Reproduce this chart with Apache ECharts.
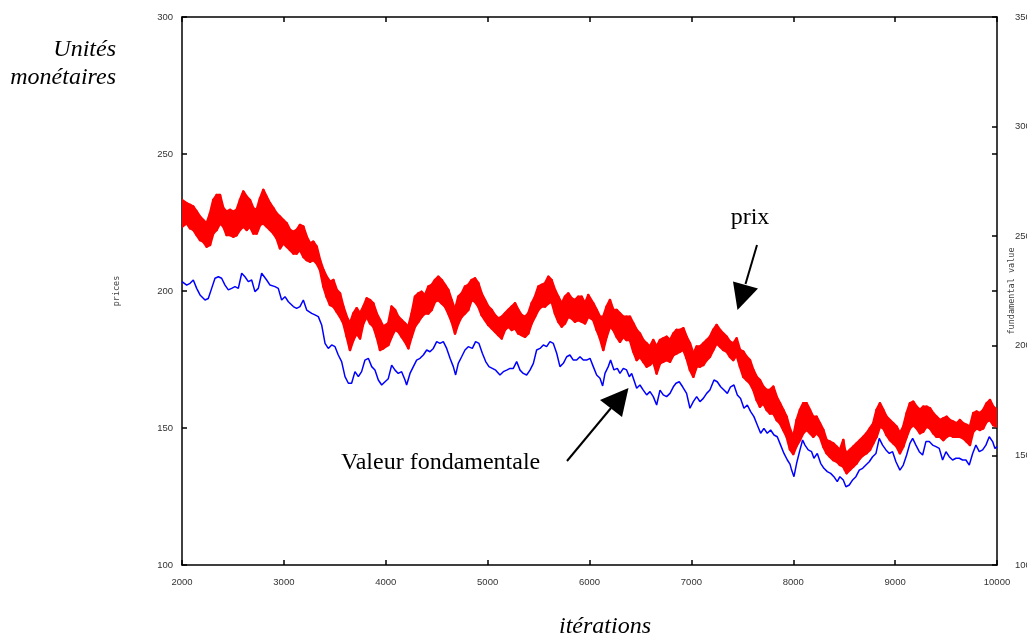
<!DOCTYPE html>
<html><head><meta charset="utf-8">
<script src="https://cdn.jsdelivr.net/npm/echarts@6/dist/echarts.min.js"></script>
<style>html,body{margin:0;padding:0;background:#fff}#c{width:1027px;height:637px}</style>
</head><body><div id="c"></div>
<script>
const xTicks = [2000,3000,4000,5000,6000,7000,8000,9000,10000];
const priceTicks = [100,150,200,250,300];
const fundTicks = [100,150,200,250,300,350];

const priceIter = [2000,2046,2079,2111,2144,2177,2209,2242,2275,2307,2340,2373,2406,2438,2471,2504,2536,2569,2602,2635,2667,2700,2733,2766,2798,2831,2864,2897,2929,2962,2995,3028,3060,3093,3126,3158,3191,3224,3257,3289,3322,3355,3388,3420,3453,3486,3519,3551,3584,3617,3649,3682,3715,3747,3780,3813,3846,3878,3911,3944,3976,
4025,4058,4091,4123,4156,4189,4222,4254,4287,4320,4352,4385,4418,4451,4483,4516,4549,4582,4614,4647,4680,4712,4745,4778,4810,4843,4876,4909,4941,4974,5007,5040,5072,5105,5138,5170,5203,5236,5269,5301,5334,5367,5399,5432,5465,5498,5530,5563,5596,5628,5661,5694,5727,5759,5792,5825,5857,5890,5923,5956,5988,
6037,6070,6103,6135,6168,6201,6234,6266,6299,6332,6364,6397,6430,6463,6495,6528,6561,6593,6626,6659,6692,6724,6757,6790,6823,6855,6888,6921,6953,6986,7019,7052,7084,7117,7150,7182,7215,7248,7281,7313,7346,7379,7411,7444,7477,7510,7542,7575,7608,7641,7673,7706,7739,7771,7804,7837,7870,7902,7935,
7968,8000,8033,8066,8098,8131,8164,8196,8229,8262,8295,8327,8360,8393,8426,8458,8491,8507,8524,8556,8589,8622,8655,8687,8720,8753,8785,8818,8851,8884,8916,8949,8982,9015,9047,9080,9113,9145,9178,9211,9244,9276,9309,9342,9374,9407,9440,9473,9505,9538,9571,9603,9636,9669,9702,9734,9767,9800,9832,9865,9898,9931,9963,10000];

const priceHigh = [233.2,232.0,231.4,230.8,229.0,227.1,225.9,224.7,228.3,233.2,235.0,235.0,230.2,229.0,229.6,229.0,229.6,233.2,236.3,234.4,233.2,230.2,229.6,233.8,236.9,234.4,232.0,230.2,228.3,227.1,225.9,224.7,222.3,221.6,222.3,224.1,223.5,219.8,217.4,218.0,216.2,211.3,207.7,205.2,203.4,204.0,200.4,199.1,194.3,190.6,188.2,191.8,193.7,191.8,194.3,197.3,196.7,195.5,191.8,189.4,187.0,
188.2,194.3,193.1,190.6,189.4,188.2,187.0,191.8,197.9,199.1,199.7,198.5,201.6,202.2,204.0,205.2,204.0,202.2,200.4,196.7,193.1,197.9,199.1,201.6,202.2,204.0,204.6,202.8,199.1,196.7,194.3,193.1,191.2,190.0,190.6,191.8,193.1,194.3,195.5,193.1,191.2,190.6,191.8,195.5,197.9,201.6,202.2,202.8,205.2,204.0,200.4,197.9,195.5,197.9,199.1,197.3,196.7,197.9,197.9,195.5,198.5,
195.5,193.1,190.6,190.6,194.3,196.7,193.1,193.1,191.8,190.6,190.6,190.6,188.2,185.8,184.5,182.1,180.9,179.7,182.1,179.7,182.1,182.7,183.3,182.1,184.5,185.8,185.8,186.4,183.3,180.9,177.2,179.7,179.7,180.9,182.1,183.3,185.8,187.6,185.8,184.5,183.3,181.5,180.9,182.7,178.5,177.9,176.0,174.8,171.2,168.7,167.5,165.1,163.9,163.9,165.1,161.4,159.0,156.6,154.1,
149.6,146.8,152.9,156.6,159.0,159.0,156.6,154.1,154.1,151.7,149.3,145.6,145.0,144.4,143.2,142.0,145.6,142.0,140.8,142.0,143.2,144.4,145.6,146.8,148.1,149.9,151.7,156.6,159.0,156.6,154.1,152.9,151.7,150.5,148.1,150.5,155.4,159.0,159.6,157.8,156.6,157.8,157.8,157.2,155.4,154.1,152.9,153.5,154.1,152.9,152.3,151.7,152.9,151.7,151.1,150.5,155.4,156.0,155.4,156.6,159.0,160.2,157.8,156.6];

const priceLow = [223.5,224.7,222.9,222.3,220.4,218.6,218.0,216.2,216.8,221.0,222.3,224.7,223.5,220.4,220.4,219.8,220.4,222.3,223.5,222.3,223.5,221.0,221.0,224.1,224.7,223.5,222.3,221.0,219.2,215.6,217.4,216.2,215.0,213.7,213.7,215.0,212.5,211.3,210.7,211.3,210.1,207.7,201.6,197.9,194.9,194.3,192.4,190.6,188.2,183.3,178.5,182.1,184.5,182.7,188.2,190.6,188.2,187.0,183.3,178.5,179.1,
180.3,183.3,185.8,185.2,183.3,181.5,179.1,183.3,187.0,188.8,190.6,191.8,191.8,193.1,196.1,196.7,195.5,194.3,191.8,188.8,184.5,188.2,190.6,191.8,193.1,196.7,196.1,194.3,191.2,189.4,187.6,186.4,185.2,183.9,182.7,185.8,187.0,185.8,186.4,184.5,183.9,183.3,184.5,188.2,190.6,193.1,194.3,194.3,195.5,196.1,191.8,188.8,187.0,188.2,190.6,190.0,188.8,189.4,188.8,188.2,190.6,
189.4,185.8,182.7,178.5,183.3,187.0,185.8,183.3,181.5,183.3,182.1,182.1,177.9,174.8,176.0,174.2,172.4,173.0,174.2,169.9,173.6,174.2,174.8,174.2,176.6,177.2,177.9,178.5,175.4,171.2,168.7,172.4,172.4,173.0,174.8,176.0,178.5,180.9,179.7,178.5,177.9,176.0,174.8,176.6,172.4,168.7,167.5,166.3,163.9,160.2,157.8,159.0,156.6,155.3,155.3,152.9,151.7,149.3,146.8,
142.2,140.5,143.5,145.6,148.1,149.3,148.1,146.8,148.1,146.8,143.2,140.8,139.5,138.3,137.7,136.5,135.9,134.7,133.5,134.7,135.9,137.1,138.9,140.1,140.8,142.0,144.4,146.8,150.5,149.9,147.4,145.6,144.4,143.2,140.8,143.2,146.8,149.9,151.1,149.9,148.1,148.7,150.5,149.9,148.1,146.8,146.8,145.6,146.8,147.4,146.8,146.8,146.8,146.2,145.0,143.8,148.7,149.9,149.3,149.9,152.3,152.9,151.1,150.5];

const fundIter = [2000,2046,2079,2111,2144,2177,2226,2258,2291,2324,2357,2389,2422,2455,2487,2520,2553,2586,2618,2651,2684,2716,2749,2782,2798,2831,2864,2913,2945,2978,3011,3044,3093,3125,3158,3191,3224,3273,3305,3338,3371,3404,3436,3469,3502,3534,3567,3600,3633,3665,3698,3731,3763,3796,3829,3862,3894,3927,3960,3993,
4025,4058,4091,4123,4156,4189,4205,4238,4271,4303,4336,4369,4402,4434,4467,4500,4532,4565,4598,4631,4663,4686,4712,4745,4778,4810,4850,4882,4915,4948,4981,5013,5046,5079,5121,5154,5187,5220,5252,5285,5318,5350,5383,5416,5449,5481,5514,5547,5579,5612,5645,5678,5710,5743,5776,5808,5841,5874,5907,5939,5972,6005,6037,
6070,6103,6129,6152,6184,6207,6240,6273,6299,6332,6364,6391,6414,6436,6463,6495,6528,6561,6594,6626,6659,6692,6724,6757,6790,6823,6849,6881,6914,6953,6986,7019,7052,7084,7117,7150,7182,7222,7254,7287,7320,7353,7385,7418,7451,7483,7516,7549,7582,7614,7647,7680,7712,7745,7778,7811,7843,7876,7909,7942,7968,7984,8007,
8033,8066,8092,8115,8147,8180,8203,8236,8269,8301,8334,8367,8399,8432,8458,8491,8517,8550,8583,8615,8648,8681,8713,8746,8779,8812,8844,8877,8910,8943,8975,9008,9047,9080,9113,9145,9172,9204,9237,9270,9302,9335,9368,9401,9433,9466,9499,9531,9564,9597,9630,9662,9695,9728,9761,9793,9826,9859,9891,9924,9957,9980,10000];

const fundValue = [229.3,227.7,228.5,230.0,226.2,223.2,220.9,221.6,226.2,230.8,231.5,230.8,227.7,225.5,226.2,227.0,226.2,233.1,231.5,229.3,230.0,224.7,226.2,233.1,233.8,230.0,227.7,227.0,226.2,220.9,222.4,220.1,217.9,217.1,217.9,220.9,216.3,214.8,214.1,213.3,209.5,201.1,198.8,200.4,199.6,195.8,192.8,185.9,182.9,182.9,188.2,185.9,188.2,193.5,194.3,190.5,189.0,184.4,182.1,183.6,
185.0,191.2,188.9,187.4,188.2,184.4,182.1,187.4,190.5,193.5,194.3,195.8,198.1,197.3,198.8,201.9,201.1,201.9,198.8,194.3,190.5,186.7,192.0,195.0,198.1,199.6,198.8,201.9,201.1,196.6,192.8,190.5,189.7,188.9,186.7,188.2,188.9,189.7,189.7,192.8,188.9,187.4,186.7,188.9,192.0,198.1,198.8,200.4,199.6,201.9,201.1,196.6,190.5,192.0,195.0,195.8,193.5,193.5,195.0,193.5,193.5,194.3,190.5,
186.7,185.2,181.7,187.4,190.5,193.5,189.0,189.7,187.4,189.7,189.0,185.9,187.4,184.4,180.6,182.1,179.8,177.6,179.1,176.8,173.0,179.8,177.6,176.8,178.3,181.3,182.9,183.6,181.3,178.3,171.5,174.5,176.8,174.5,176.0,178.3,179.8,184.4,183.6,181.3,179.8,178.3,181.3,182.1,177.6,176.0,171.5,173.0,170.0,167.7,163.9,160.1,162.3,160.1,161.6,159.3,158.5,154.7,150.9,147.9,146.0,143.3,140.3,
146.4,152.5,157.0,154.7,152.5,151.7,148.7,150.9,146.4,144.1,142.6,141.8,140.3,138.0,140.3,138.8,135.7,136.5,138.8,140.3,143.3,144.1,145.6,147.1,149.4,150.9,157.8,154.7,152.5,150.9,151.7,147.1,143.3,145.6,150.2,155.5,157.8,154.7,151.7,150.2,156.3,156.3,154.7,154.0,153.2,147.9,151.7,149.4,147.9,148.7,148.7,147.9,147.9,145.6,150.9,154.7,151.7,152.5,154.7,158.5,156.3,153.2,154.0];

const bandData = priceIter.slice(0, -1).map((x, i) =>
  [x, priceLow[i], priceHigh[i], priceIter[i + 1], priceLow[i + 1], priceHigh[i + 1]]);
const fundData = fundIter.map((x, i) => [x, fundValue[i]]);

const tickFont = {fontSize: 9.5, color: '#333', fontFamily: 'Liberation Sans', formatter: v => String(v)};
const frameLine = {show: true, lineStyle: {color: '#000', width: 1.5}};
const innerTick = {show: true, inside: true, length: 5, lineStyle: {color: '#000', width: 1.5}};

const chart = echarts.init(document.getElementById('c'), null, {renderer: 'canvas'});
chart.setOption({
  animation: false,
  backgroundColor: '#fff',
  grid: {left: 182, right: 30, top: 17, bottom: 72, containLabel: false, outerBoundsMode: 'none'},
  xAxis: [
    {type: 'value', position: 'bottom', min: xTicks[0], max: xTicks[xTicks.length - 1],
     interval: xTicks[1] - xTicks[0], axisLine: frameLine, axisTick: innerTick,
     axisLabel: Object.assign({margin: 12}, tickFont), splitLine: {show: false}},
    {type: 'value', position: 'top', min: xTicks[0], max: xTicks[xTicks.length - 1],
     interval: xTicks[1] - xTicks[0], axisLine: frameLine, axisTick: innerTick,
     axisLabel: {show: false}, splitLine: {show: false}}
  ],
  yAxis: [
    {type: 'value', position: 'left', min: priceTicks[0], max: priceTicks[priceTicks.length - 1],
     interval: priceTicks[1] - priceTicks[0], axisLine: frameLine, axisTick: innerTick,
     axisLabel: Object.assign({margin: 9}, tickFont), splitLine: {show: false}},
    {type: 'value', position: 'right', min: fundTicks[0], max: fundTicks[fundTicks.length - 1],
     interval: fundTicks[1] - fundTicks[0], axisLine: frameLine, axisTick: innerTick,
     axisLabel: Object.assign({margin: 18}, tickFont), splitLine: {show: false}},
    {type: 'value', position: 'right', offset: 0, min: priceTicks[0], max: priceTicks[priceTicks.length - 1],
     interval: priceTicks[1] - priceTicks[0], axisLine: {show: false}, axisTick: innerTick,
     axisLabel: {show: false}, splitLine: {show: false}}
  ],
  series: [
    {type: 'custom', name: 'prix', coordinateSystem: 'cartesian2d', xAxisIndex: 0, yAxisIndex: 0,
     data: bandData, encode: {x: [0, 3], y: [1, 2, 4, 5]}, silent: true, clip: true,
     renderItem: function (params, api) {
       const p1 = api.coord([api.value(0), api.value(2)]);
       const p2 = api.coord([api.value(3), api.value(5)]);
       const p3 = api.coord([api.value(3), api.value(4)]);
       const p4 = api.coord([api.value(0), api.value(1)]);
       return {type: 'polygon', shape: {points: [p1, p2, p3, p4]},
               style: {fill: '#ff0000', stroke: '#ff0000', lineWidth: 2.5, lineJoin: 'round'}};
     }},
    {type: 'line', name: 'fundamental value', xAxisIndex: 0, yAxisIndex: 1, data: fundData,
     symbol: 'none', silent: true, lineStyle: {color: '#0000ff', width: 1.5}, z: 3}
  ],
  graphic: [
    {type: 'text', x: 116, y: 50, style: {text: 'Unités', font: 'italic 24px "Liberation Serif"', fill: '#000', textAlign: 'right', textVerticalAlign: 'middle'}},
    {type: 'text', x: 116, y: 78, style: {text: 'monétaires', font: 'italic 24px "Liberation Serif"', fill: '#000', textAlign: 'right', textVerticalAlign: 'middle'}},
    {type: 'text', x: 605, y: 627, style: {text: 'itérations', font: 'italic 24px "Liberation Serif"', fill: '#000', textAlign: 'center', textVerticalAlign: 'middle'}},
    {type: 'text', x: 750, y: 218, style: {text: 'prix', font: '24px "Liberation Serif"', fill: '#000', textAlign: 'center', textVerticalAlign: 'middle'}},
    {type: 'text', x: 341, y: 463, style: {text: 'Valeur fondamentale', font: '24px "Liberation Serif"', fill: '#000', textAlign: 'left', textVerticalAlign: 'middle'}},
    {type: 'text', x: 117, y: 291, rotation: Math.PI / 2, style: {text: 'prices', font: '8.5px "DejaVu Sans Mono"', fill: '#444', textAlign: 'center', textVerticalAlign: 'middle'}},
    {type: 'text', x: 1012, y: 291, rotation: Math.PI / 2, style: {text: 'fundamental value', font: '8.5px "DejaVu Sans Mono"', fill: '#444', textAlign: 'center', textVerticalAlign: 'middle'}},
    {type: 'line', shape: {x1: 757, y1: 245, x2: 745.5, y2: 284}, style: {stroke: '#000', lineWidth: 2}},
    {type: 'polygon', shape: {points: [[737.5, 310], [733, 281.5], [758, 288.5]]}, style: {fill: '#000'}},
    {type: 'line', shape: {x1: 567, y1: 461, x2: 611, y2: 408}, style: {stroke: '#000', lineWidth: 2}},
    {type: 'polygon', shape: {points: [[628.5, 388], [600, 400], [622, 417]]}, style: {fill: '#000'}}
  ]
});
</script>
</body></html>
